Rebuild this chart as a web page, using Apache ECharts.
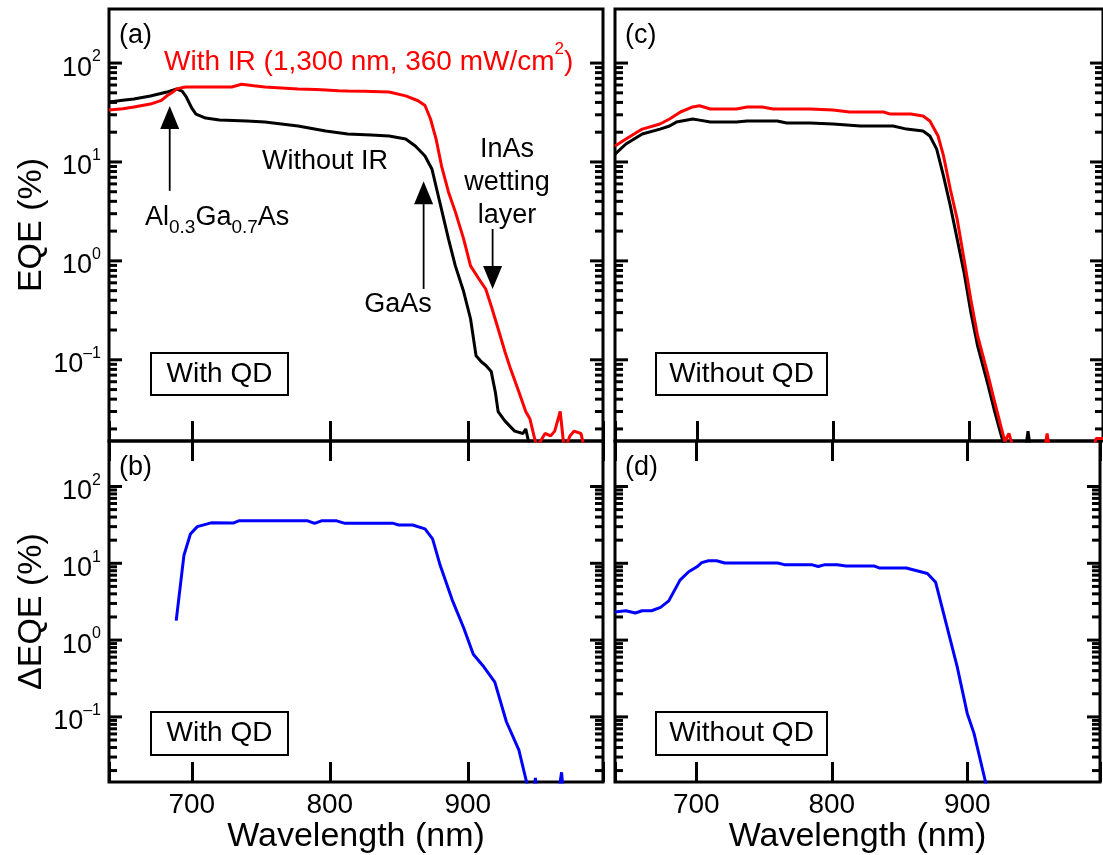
<!DOCTYPE html>
<html>
<head>
<meta charset="utf-8">
<script src="https://cdn.jsdelivr.net/npm/echarts@6/dist/echarts.min.js"></script>
<style>
  html, body { margin: 0; padding: 0; background: #fff; }
  #chart { width: 1103px; height: 855px; }
</style>
</head>
<body>
<div id="chart"></div>
<script>
// ---- data ----
// (a) with QD : EQE without / with IR
const wlA_noIR = [640, 650, 658, 670, 682, 689, 693, 696, 700, 703, 710, 720, 740, 753, 777, 797, 813, 830, 843, 855,
  862, 869, 874, 877.5, 881, 886, 891, 897, 902, 906, 910, 913, 917, 920, 922, 927, 934, 940, 942, 945, 950];
const eqeA_noIR = [40.4, 42, 43.3, 46.4, 50.9, 54.6, 52, 45.4, 35, 30.5, 27.8, 26.5, 26, 25.3, 23.1, 20.6, 19.2, 18.7, 18.3, 17.1,
  14.5, 11.5, 8.5, 5.3, 3.3, 1.67, 0.89, 0.49, 0.26, 0.11, 0.095, 0.088, 0.076, 0.047, 0.030, 0.024, 0.019, 0.018, 0.020, 0.013, 0.01];
const wlA_IR = [640, 650, 658, 670, 678, 682, 686, 689, 693, 696, 703, 715, 729, 736, 745, 753, 765, 777, 790, 797,
  806, 813, 825, 843, 855, 864, 869, 873, 877, 881, 886, 891, 897, 902, 908, 913, 917, 922, 927, 931,
  937, 942, 945, 950, 956, 960, 963, 967, 970, 974, 977, 982, 985, 998];
const eqeA_IR = [33.5, 34.5, 35.9, 38.5, 42, 46.7, 50.6, 54.6, 56.5, 57.3, 57.3, 57.3, 57.3, 61, 59, 57.3, 56, 54.6, 54, 53.4,
  52.5, 52.1, 52, 50.9, 46.6, 41.6, 37.2, 27.2, 17.1, 9.1, 4.98, 3.13, 1.67, 0.89, 0.66, 0.52, 0.35, 0.206, 0.12, 0.081,
  0.0475, 0.030, 0.0254, 0.013, 0.018, 0.017, 0.019, 0.030, 0.012, 0.017, 0.019, 0.018, 0.012, 0.012];

// (c) without QD : EQE without / with IR
const wlC_noIR = [640, 648, 660, 673, 680, 685, 697, 702, 710, 729, 737, 759, 766, 783, 800, 820, 844, 854, 866, 871,
  876, 881, 886, 891, 896, 901, 906, 913, 918, 923, 926, 941, 943, 945];
const eqeC_noIR = [12.0, 15.2, 19.2, 21.5, 23.1, 25.3, 27.2, 26.5, 25.3, 25.3, 26, 26, 24.8, 24.8, 24.2, 23.1, 23.1, 21.5, 20.6, 18.3,
  13.5, 7.2, 3.6, 1.67, 0.77, 0.305, 0.138, 0.06, 0.032, 0.0178, 0.013, 0.012, 0.019, 0.012];
const wlC_IR = [640, 648, 660, 673, 680, 688, 697, 702, 710, 729, 737, 748, 756, 783, 800, 812, 837, 842, 857, 866,
  871, 877, 881, 886, 891, 896, 901, 906, 913, 918, 923, 926, 929, 932, 955, 957, 959, 990, 993, 998];
const eqeC_IR = [14.5, 17.1, 21.5, 24.2, 27.2, 32, 36, 37, 34.3, 34.3, 36, 36, 34.3, 34.3, 33.5, 32, 32, 30.5, 30.5, 29.2,
  26, 18.3, 11.5, 5.3, 2.65, 1.05, 0.41, 0.175, 0.076, 0.040, 0.0215, 0.015, 0.018, 0.013, 0.012, 0.018, 0.012, 0.012, 0.016, 0.016];

// (b) with QD : delta EQE
const wlB = [688.7, 694.3, 699, 704, 714, 730, 734, 784, 789, 794, 805, 811, 846, 850, 860, 869, 874.5, 880, 888.7, 897,
  904, 911, 919.6, 928, 937, 942.6, 944, 948, 949, 950, 966, 968, 969];
const deltaB = [1.79, 12.7, 24.1, 30, 33.6, 33.4, 35.7, 35.7, 33.1, 35.7, 35.7, 33.1, 33.1, 31.5, 31.5, 28, 20.8, 9.4, 3.34, 1.45,
  0.655, 0.464, 0.283, 0.0865, 0.0373, 0.0142, 0.011, 0.011, 0.016, 0.011, 0.011, 0.019, 0.011];

// (d) without QD : delta EQE
const wlD = [640, 648, 655, 660, 667, 673.6, 679.7, 688, 694.4, 700.5, 704, 709, 715, 721, 760, 765, 785, 790, 795, 804,
  810.6, 831.5, 835, 855, 870.6, 876.7, 884, 892.7, 900, 905, 913.5, 915];
const deltaD = [2.32, 2.41, 2.25, 2.41, 2.41, 2.67, 3.24, 6.04, 7.75, 9.0, 10.2, 10.8, 10.8, 10.1, 10.1, 9.6, 9.6, 9.1, 9.6, 9.6,
  9.2, 9.2, 8.7, 8.7, 7.37, 5.65, 1.76, 0.44, 0.111, 0.061, 0.0142, 0.01];

// axis ticks
const xTicks = [700, 800, 900];
const yMajor = [0.1, 1, 10, 100];
const yMinorMult = [2, 3, 4, 5, 6, 7, 8, 9];
const yMinorDecades = [0.01, 0.1, 1, 10];

// ---- layout ----
const FONT = '"Liberation Sans", Arial, Helvetica, sans-serif';
const XMIN = 640, XMAX = 998;
const TOP_RANGE = [0.0151, 352];
const BOT_RANGE = [0.01416, 391];

const pairs = (xs, ys) => xs.map((x, i) => [x, ys[i]]);

const chart = echarts.init(document.getElementById('chart'), null, { renderer: 'canvas' });

const grids = [
  { left: 109, top: 9, width: 494, height: 432 },
  { left: 109, top: 441, width: 494, height: 345 },
  { left: 615, top: 9, width: 490, height: 432 },
  { left: 615, top: 441, width: 490, height: 345 }
].map(g => Object.assign({ show: true, borderColor: '#000', borderWidth: 3, backgroundColor: 'transparent' }, g));

function makeX(gridIndex, position, withLabels) {
  return {
    type: 'value', gridIndex, position, min: XMIN, max: XMAX,
    splitNumber: 3, minInterval: 100, maxInterval: 100,
    axisLine: { show: false },
    axisTick: { show: true, inside: true, length: 20, lineStyle: { color: '#000', width: 3 } },
    splitLine: { show: false },
    axisLabel: {
      show: withLabels, margin: 9, color: '#000', fontSize: 28, fontFamily: FONT,
      formatter: v => (xTicks.indexOf(v) >= 0 ? String(v) : '')
    },
    name: withLabels ? 'Wavelength (nm)' : '',
    nameLocation: 'middle', nameGap: 35,
    nameTextStyle: { color: '#000', fontSize: 34, fontFamily: FONT }
  };
}

function yLabel(v) {
  const l = Math.log10(v);
  const e = Math.round(l);
  if (Math.abs(l - e) > 1e-6) return '';
  return '{b|10}{s|' + (e < 0 ? '\u2013' + (-e) : e) + '}';
}

function makeY(gridIndex, range, withLabels, name) {
  return {
    type: 'log', logBase: 10, gridIndex, min: range[0], max: range[1],
    axisLine: { show: false }, axisTick: { show: false }, splitLine: { show: false },
    axisLabel: {
      show: withLabels, margin: 8, formatter: yLabel, padding: [10, 0, 0, 0],
      rich: {
        b: { fontSize: 27, fontFamily: FONT, color: '#000', lineHeight: 38, verticalAlign: 'middle' },
        s: { fontSize: 16, fontFamily: FONT, color: '#000', lineHeight: 14, verticalAlign: 'top' }
      }
    },
    name: name || '', nameLocation: 'middle', nameGap: 60, nameRotate: 90,
    nameTextStyle: { color: '#000', fontSize: 34, fontFamily: FONT }
  };
}

// x axes: 0 a-bottom, 1 b-bottom, 2 b-top, 3 c-bottom, 4 d-bottom, 5 d-top
const xAxes = [
  makeX(0, 'bottom', false),
  makeX(1, 'bottom', true),
  makeX(1, 'top', false),
  makeX(2, 'bottom', false),
  makeX(3, 'bottom', true),
  makeX(3, 'top', false)
];
const yAxes = [
  makeY(0, TOP_RANGE, true, 'EQE (%)'),
  makeY(1, BOT_RANGE, true, '\u0394EQE (%)'),
  makeY(2, TOP_RANGE, false),
  makeY(3, BOT_RANGE, false)
];

// log tick marks on both sides of every panel
const tickData = yMajor.map(v => [XMIN, v, 1]);
yMinorDecades.forEach(d => yMinorMult.forEach(m => tickData.push([XMIN, +(m * d).toPrecision(3), 0])));

function tickRender(params, api) {
  const cs = params.coordSys;
  const y = api.coord([api.value(0), api.value(1)])[1];
  const len = api.value(2) ? 13 : 8;
  const st = { stroke: '#000', lineWidth: 3 };
  return {
    type: 'group', children: [
      { type: 'line', shape: { x1: cs.x, y1: y, x2: cs.x + len, y2: y }, style: st },
      { type: 'line', shape: { x1: cs.x + cs.width - len, y1: y, x2: cs.x + cs.width, y2: y }, style: st }
    ]
  };
}

function line(xi, yi, data, color) {
  return {
    type: 'line', xAxisIndex: xi, yAxisIndex: yi, data, showSymbol: false, symbol: 'none',
    lineStyle: { color, width: 3 }, itemStyle: { color }, clip: true, z: 3, silent: true
  };
}

const series = [
  line(0, 0, pairs(wlA_noIR, eqeA_noIR), '#000000'),
  line(0, 0, pairs(wlA_IR, eqeA_IR), '#ff0000'),
  line(3, 2, pairs(wlC_noIR, eqeC_noIR), '#000000'),
  line(3, 2, pairs(wlC_IR, eqeC_IR), '#ff0000'),
  line(1, 1, pairs(wlB, deltaB), '#0000ff'),
  line(4, 3, pairs(wlD, deltaD), '#0000ff')
];
[[0, 0], [1, 1], [3, 2], [4, 3]].forEach(([xi, yi]) => {
  series.push({ type: 'custom', xAxisIndex: xi, yAxisIndex: yi, data: tickData, renderItem: tickRender, clip: false, silent: true, z: 4 });
});

chart.setOption({
  animation: false,
  backgroundColor: '#ffffff',
  textStyle: { fontFamily: FONT },
  grid: grids,
  xAxis: xAxes,
  yAxis: yAxes,
  series
});

// ---- annotations ----
function txt(x, y, text, opt) {
  return {
    type: 'text', x, y, z: 10, silent: true,
    style: Object.assign({ text, fontSize: 27, fontFamily: FONT, fill: '#000', align: 'left', verticalAlign: 'middle' }, opt || {})
  };
}
function box(x, y, w, h, label) {
  return [
    { type: 'rect', z: 9, silent: true, shape: { x, y, width: w, height: h }, style: { fill: '#fff', stroke: '#000', lineWidth: 2 } },
    txt(x + w / 2, y + h / 2, label, { align: 'center', fontSize: 28 })
  ];
}
function arrow(xi, yi, wl, vTail, vTip) {
  const p0 = chart.convertToPixel({ xAxisIndex: xi, yAxisIndex: yi }, [wl, vTail]);
  const p1 = chart.convertToPixel({ xAxisIndex: xi, yAxisIndex: yi }, [wl, vTip]);
  const dir = p1[1] < p0[1] ? -1 : 1;
  const headLen = 23, half = 9.5;
  const baseY = p1[1] - dir * headLen;
  return [
    { type: 'line', z: 10, silent: true, shape: { x1: p0[0], y1: p0[1], x2: p1[0], y2: baseY }, style: { stroke: '#000', lineWidth: 1.8 } },
    { type: 'polygon', z: 10, silent: true, shape: { points: [[p1[0], p1[1]], [p1[0] - half, baseY], [p1[0] + half, baseY]] }, style: { fill: '#000' } }
  ];
}

const graphics = [].concat(
  txt(119, 36, '(a)'), txt(119, 468, '(b)'), txt(625, 36, '(c)'), txt(625, 468, '(d)'),
  box(151, 353, 137, 42, 'With QD'),
  box(151, 712, 137, 43, 'With QD'),
  box(656, 353, 171, 42, 'Without QD'),
  box(656, 712, 171, 43, 'Without QD'),
  txt(164, 62, '{r|With IR (1,300 nm, 360 mW/cm}{p|2}{r|)}', {
    fill: '#ff0000',
    rich: {
      r: { fontSize: 28, fontFamily: FONT, fill: '#ff0000', lineHeight: 43, verticalAlign: 'middle' },
      p: { fontSize: 17, fontFamily: FONT, fill: '#ff0000', lineHeight: 14, verticalAlign: 'top' }
    }
  }),
  txt(262, 162, 'Without IR'),
  txt(145, 218, '{n|Al}{s|0.3}{n|Ga}{s|0.7}{n|As}', {
    rich: {
      n: { fontSize: 27, fontFamily: FONT, fill: '#000', lineHeight: 39, verticalAlign: 'middle' },
      s: { fontSize: 19, fontFamily: FONT, fill: '#000', lineHeight: 10, verticalAlign: 'bottom' }
    }
  }),
  txt(398, 305, 'GaAs', { align: 'center' }),
  txt(507, 183, 'InAs\nwetting\nlayer', { align: 'center', lineHeight: 33 }),
  arrow(0, 0, 684, 5.1, 36.8),
  arrow(0, 0, 868, 0.52, 6.4),
  arrow(0, 0, 918, 2.1, 0.52)
);

chart.setOption({ graphic: { elements: graphics } });
</script>
</body>
</html>
